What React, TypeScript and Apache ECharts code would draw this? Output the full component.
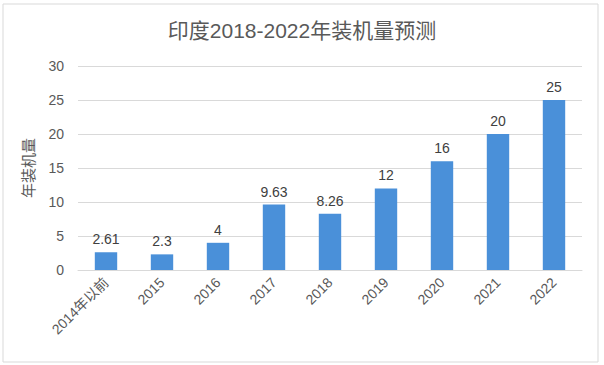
import React, { useEffect, useRef } from "react";
import * as echarts from "echarts";

const categories = ["2014年以前", "2015", "2016", "2017", "2018", "2019", "2020", "2021", "2022"];
const values = [2.61, 2.3, 4, 9.63, 8.26, 12, 16, 20, 25];
const yTicks = [0, 5, 10, 15, 20, 25, 30];

const FONT = "'Liberation Sans', 'Noto Sans CJK SC', sans-serif";

export default function App() {
  const ref = useRef<HTMLDivElement>(null);
  useEffect(() => {
    if (!ref.current) return;
    const chart = echarts.init(ref.current, null, { renderer: "svg" });
    chart.setOption({
      animation: false,
      backgroundColor: "#ffffff",
      title: {
        text: "印度2018-2022年装机量预测",
        left: "center",
        top: 15,
        textStyle: { fontSize: 21, fontWeight: "normal", color: "#595959", fontFamily: FONT },
      },
      graphic: [
        {
          type: "rect",
          shape: { x: 3, y: 4, width: 595, height: 358 },
          style: { fill: "none", stroke: "#d9d9d9", lineWidth: 1 },
          silent: true,
        },
      ],
      grid: { left: 78, right: 22, top: 66, bottom: 95 },
      xAxis: {
        type: "category",
        data: categories,
        axisLine: { lineStyle: { color: "#d9d9d9" } },
        axisTick: { show: false },
        axisLabel: { rotate: 45, color: "#595959", fontSize: 14, fontFamily: FONT, margin: 10 },
      },
      yAxis: {
        type: "value",
        min: yTicks[0],
        max: yTicks[yTicks.length - 1],
        interval: 5,
        name: "年装机量",
        nameLocation: "middle",
        nameGap: 42,
        nameRotate: 90,
        nameTextStyle: { color: "#595959", fontSize: 15, fontFamily: FONT },
        axisLine: { show: false },
        axisTick: { show: false },
        axisLabel: { color: "#595959", fontSize: 14, fontFamily: FONT, margin: 14 },
        splitLine: { lineStyle: { color: "#d9d9d9" } },
      },
      series: [
        {
          type: "bar",
          data: values,
          barWidth: "40%",
          itemStyle: { color: "#4a90d9" },
          label: { show: true, position: "top", color: "#404040", fontSize: 14, fontFamily: FONT, distance: 6 },
        },
      ],
    });
    return () => chart.dispose();
  }, []);
  return <div ref={ref} style={{ position: "fixed", left: 0, top: 0, width: 604, height: 365 }} />;
}
